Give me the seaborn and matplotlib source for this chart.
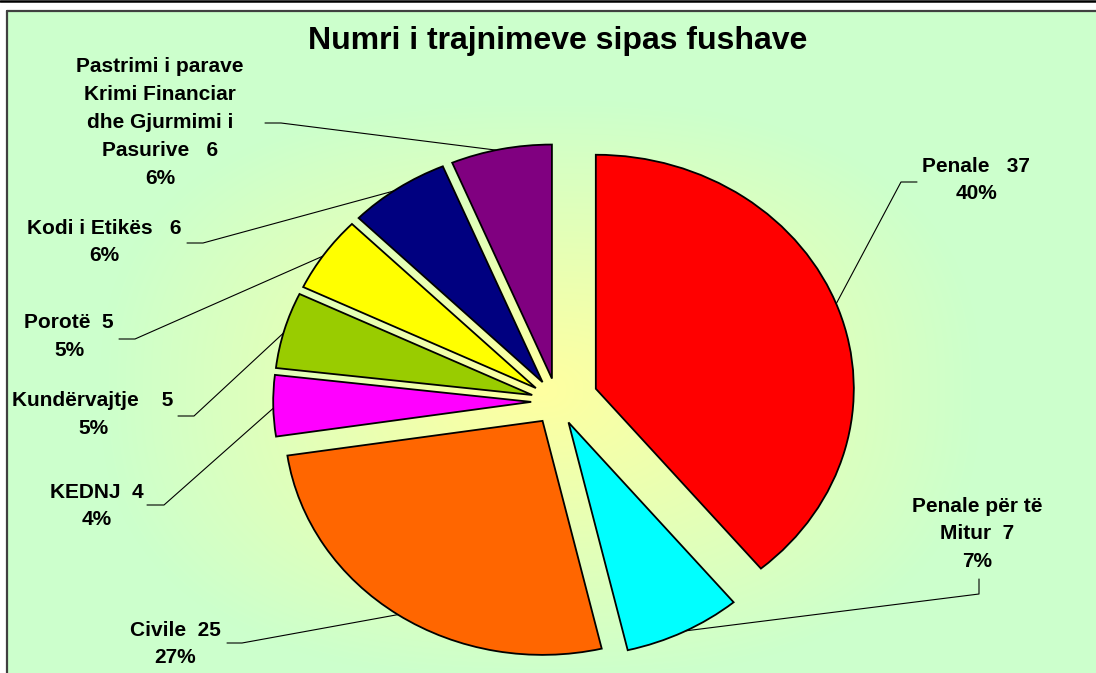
import numpy as np
import matplotlib
matplotlib.use("Agg")
import matplotlib.pyplot as plt
import seaborn as sns
from matplotlib.lines import Line2D

# ---------------- data ----------------
title = "Numri i trajnimeve sipas fushave"
name_lines = [
    ["Penale"],
    ["Penale për të", "Mitur"],
    ["Civile"],
    ["KEDNJ"],
    ["Kundërvajtje"],
    ["Porotë"],
    ["Kodi i Etikës"],
    ["Pastrimi i parave", "Krimi Financiar", "dhe Gjurmimi i", "Pasurive"],
]
counts = [37, 7, 25, 4, 5, 5, 6, 6]
percents = [40, 7, 27, 4, 5, 5, 6, 6]      # as printed on the chart
slice_colors = ["#FF0000", "#00FFFF", "#FF6600", "#FF00FF",
                "#99CC00", "#FFFF00", "#000080", "#800080"]

# ---------------- layout (pixels of the 1096x673 picture) ----------------
W, H = 1096, 673
CX, CY, RX, RY = 557, 401.5, 258, 234        # pie centre and radii
explode = [0.16, 0.1, 0.1, 0.1, 0.1, 0.1, 0.1, 0.1]
gaps = [3, 2, 2, 2, 4, 2, 3, 3]               # spaces between name and count
label_pos = [(976, 166), (977, 506), (175, 630), (97, 492),
             (93, 401), (69, 323), (104, 228), (160, 67)]
line_step = 27.8
stubs = [((917, 182), (901, 182)), ((979, 579), (979, 594)),
         ((227, 643), (242, 643)), ((147, 505), (164, 505)),
         ((178, 416), (194, 416)), ((119, 339), (135, 339)),
         ((187, 243), (203, 243)), ((265, 123), (281, 123))]
anchor_frac = [0.49, 0.48, 0.5, 0.46, 0.46, 0.46, 0.45, 0.45]

sns.set_theme(style="white")
plt.rcParams["font.family"] = ["Liberation Sans", "DejaVu Sans"]
plt.rcParams["font.weight"] = "bold"

fig = plt.figure(figsize=(W / 100, H / 100), dpi=100)

# background (gradient chart area + frame)
bg = fig.add_axes([0, 0, 1, 1])
yy, xx = np.mgrid[0:H, 0:W] + 0.5
gx, gy, hx, hy, p = 540, 390, 440, 290, 2.5
t = ((np.abs(xx - gx) / hx) ** p + (np.abs(yy - gy) / hy) ** p) ** (1 / p)
t = np.clip(t, 0, 1)[..., None]
c0 = np.array([255, 255, 160]) / 255
c1 = np.array([204, 255, 204]) / 255
img = c0 * (1 - t) + c1 * t
img[(xx < 6) | (yy < 10)] = 1.0
bg.imshow(img, extent=(0, W, H, 0), interpolation="bilinear", aspect="auto")
bg.set_xlim(0, W)
bg.set_ylim(H, 0)
bg.axis("off")
bg.plot([0, W], [1, 1], color="black", lw=1.8)
bg.plot([6.5, W], [10.5, 10.5], color="#404040", lw=1.6)
bg.plot([6.5, 6.5], [10.5, H], color="#404040", lw=1.6)

# pie axes (stretched so the pie is slightly wider than tall, like the reference)
ax = fig.add_axes([0, 0, 1, 1])
ax.patch.set_alpha(0)
palette = sns.color_palette(slice_colors)
wedges, _ = ax.pie(counts, colors=palette, startangle=90, counterclock=False,
                   explode=explode, radius=1, center=(0, 0),
                   wedgeprops=dict(edgecolor="black", linewidth=1.3))
ax.set_aspect("auto")
ax.set_xlim(-CX / RX, (W - CX) / RX)
ax.set_ylim(-(H - CY) / RY, CY / RY)
ax.axis("off")

to_px = lambda pt: bg.transData.inverted().transform(ax.transData.transform(pt))

for i, w in enumerate(wedges):
    # label text
    lines = list(name_lines[i])
    lines[-1] = lines[-1] + " " * gaps[i] + str(counts[i])
    lines.append(f"{percents[i]}%")
    x0, y0 = label_pos[i]
    for k, s in enumerate(lines):
        ax.text(x0, y0 + k * line_step, s, transform=bg.transData,
                ha="center", va="center", fontsize=15, fontweight="bold",
                color="black")
    # leader line
    ang = np.deg2rad(w.theta2 - anchor_frac[i] * (w.theta2 - w.theta1))
    cx, cy = w.center
    ax_pt = to_px((cx + w.r * np.cos(ang), cy + w.r * np.sin(ang)))
    (sx0, sy0), (sx1, sy1) = stubs[i]
    ax.add_line(Line2D([sx0, sx1, ax_pt[0]], [sy0, sy1, ax_pt[1]],
                       transform=bg.transData, color="black", lw=0.8,
                       zorder=0.5))

ax.text(558, 41, title, transform=bg.transData, ha="center", va="center",
        fontsize=23, fontweight="bold", color="black")

fig.savefig("out.png", dpi=100)
